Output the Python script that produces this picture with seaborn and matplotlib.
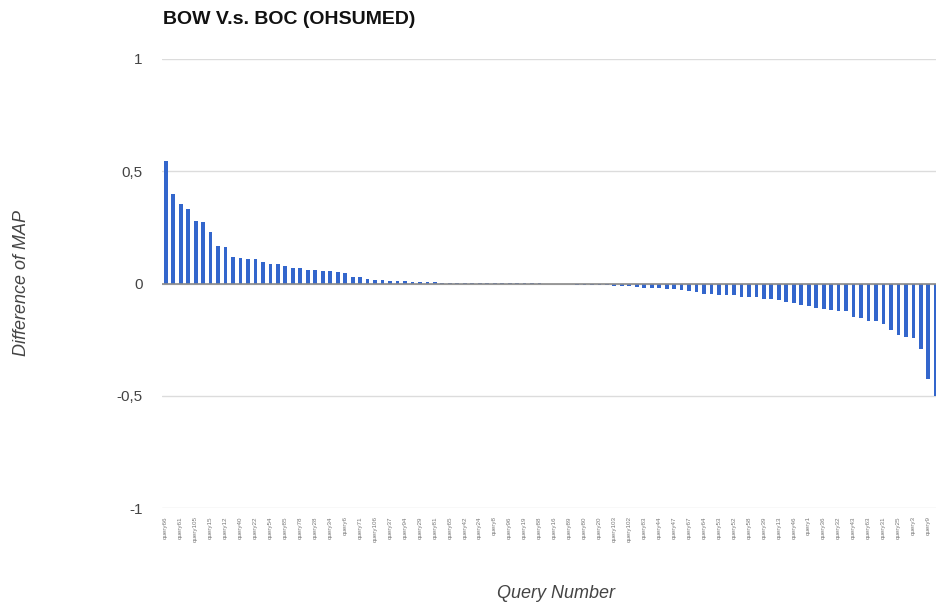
import matplotlib
matplotlib.use("Agg")
import matplotlib.pyplot as plt
import seaborn as sns
import pandas as pd

# difference of MAP (BOW - BOC) per query, sorted
map_diff = [
    0.546, 0.397, 0.353, 0.333, 0.278, 0.274, 0.229, 0.167, 0.162, 0.117,
    0.113, 0.107, 0.107, 0.095, 0.088, 0.088, 0.077,
    0.067, 0.067, 0.061, 0.061, 0.057, 0.055, 0.051, 0.045, 0.028, 0.028,
    0.022, 0.016, 0.016, 0.012, 0.012, 0.010, 0.006, 0.006,
    0.005, 0.005, 0.004, 0.004, 0.004, 0.003, 0.003, 0.003, 0.003, 0.002,
    0.002, 0.002, 0.002, 0.001, 0.001, 0.0005, 0.0,
    -0.002, -0.003, -0.004, -0.005, -0.005, -0.006, -0.007, -0.008, -0.009,
    -0.010, -0.012, -0.014, -0.018, -0.020, -0.022, -0.024, -0.026, -0.030,
    -0.034, -0.040, -0.045, -0.045, -0.049, -0.049, -0.052, -0.060, -0.060,
    -0.060, -0.067, -0.067, -0.074, -0.082, -0.089, -0.094, -0.100, -0.109,
    -0.112,
    -0.116, -0.122, -0.122, -0.149, -0.153, -0.167, -0.167, -0.179, -0.208,
    -0.231, -0.238, -0.243, -0.290, -0.424, -0.500,
]

# only every other bar carries a visible label
tick_labels = [
    'query66', 'query61', 'query105', 'query15', 'query12', 'query40',
    'query22', 'query54', 'query85', 'query78', 'query28', 'query34',
    'query6', 'query71', 'query106', 'query37', 'query94', 'query29',
    'query81', 'query65', 'query42', 'query24', 'query8', 'query96',
    'query19', 'query88', 'query16', 'query89', 'query80', 'query20',
    'query103', 'query102', 'query83', 'query44', 'query47', 'query67',
    'query64', 'query53', 'query52', 'query58', 'query39', 'query13',
    'query46', 'query1', 'query36', 'query32', 'query43', 'query63',
    'query31', 'query25', 'query3', 'query9',
]

y_ticks = [-1, -0.5, 0, 0.5, 1]
y_tick_labels = ['-1', '-0,5', '0', '0,5', '1']

sns.set_theme(style='white')
plt.rcParams['font.family'] = ['Liberation Sans', 'DejaVu Sans']

df = pd.DataFrame({'rank': range(len(map_diff)), 'diff': map_diff})

fig = plt.figure(figsize=(9.36, 6.08), dpi=100)
# plot area runs past the right edge, like the cropped original
ax = fig.add_axes([162 / 936, 100 / 608, 792.5 / 936, 449 / 608])

sns.barplot(data=df, x='rank', y='diff', color='#3366CC', saturation=1,
            width=0.5, linewidth=0, ax=ax, zorder=3)

ax.set_xlim(-0.5, 105.5)
ax.set_ylim(-1, 1)
ax.set_yticks(y_ticks)
ax.set_yticklabels(y_tick_labels, fontsize=11, color='#444444')
ax.yaxis.grid(True, color='#dcdcdc', linewidth=1, zorder=0)
ax.axhline(0, color='#8a8a8a', linewidth=1.2, zorder=4)

ax.set_xticks(range(0, len(map_diff), 2))
ax.set_xticklabels(tick_labels, rotation=90, fontsize=4.5, color='#777777')
ax.tick_params(axis='x', length=0, pad=6)
ax.tick_params(axis='y', length=0, pad=14)
ax.set_xlabel('')
ax.set_ylabel('')
for s in ax.spines.values():
    s.set_visible(False)

fig.text(163 / 936, 1 - 20 / 608, 'BOW V.s. BOC (OHSUMED)', fontsize=14,
         fontweight='bold', color='#111111', va='center', ha='left')
fig.text(22 / 936, 1 - 283 / 608, 'Difference of MAP', rotation=90,
         fontsize=13, style='italic', color='#444444', va='center', ha='center')
fig.text(556 / 936, 1 - 594 / 608, 'Query Number', fontsize=13,
         style='italic', color='#444444', va='center', ha='center')

fig.savefig('out.png', dpi=100)
